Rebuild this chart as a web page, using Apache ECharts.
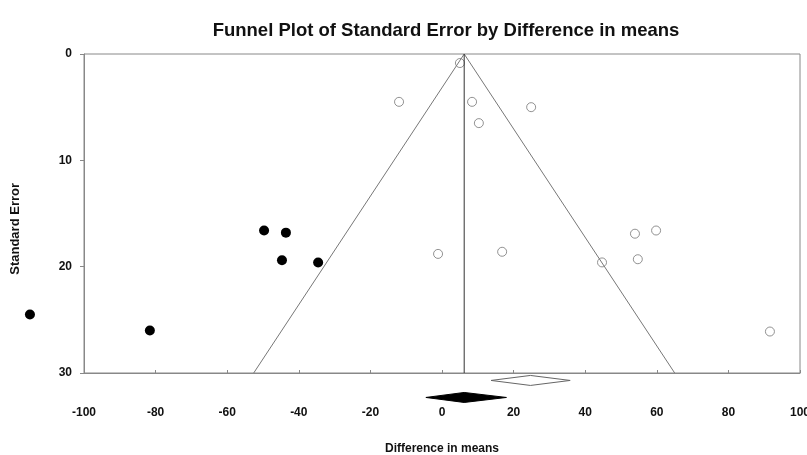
<!DOCTYPE html>
<html><head><meta charset="utf-8">
<script src="https://cdn.jsdelivr.net/npm/echarts@6/dist/echarts.min.js"></script>
<style>html,body{margin:0;padding:0;background:#fff}#c{width:807px;height:455px}</style>
</head><body><div id="c"></div>
<script>
// Observed studies (open circles)
const observedX  = [5.0, -12.0, 8.4, 24.9, 10.3, -1.1, 16.8, 44.7, 53.9, 59.8, 54.7, 91.6];
const observedSE = [0.85, 4.5, 4.5, 5.0, 6.5, 18.8, 18.6, 19.6, 16.9, 16.6, 19.3, 26.1];
// Imputed studies (filled circles)
const imputedX  = [-115.1, -81.6, -49.7, -43.6, -44.7, -34.6];
const imputedSE = [24.5, 26.0, 16.6, 16.8, 19.4, 19.6];
// Funnel definition
const funnelMean = 6.2;
const funnelMaxSE = 30;
const zCrit = 1.96;
// Summary diamonds: [low, point, high, SE-level]
const observedDiamond = [13.7, 24.7, 35.8, 30.7];
const adjustedDiamond = [-4.5, 6.2, 18.0, 32.3];
// Axis ticks
const xTicks = [-100, -80, -60, -40, -20, 0, 20, 40, 60, 80, 100];
const yTicks = [0, 10, 20, 30];

const font = '"Liberation Sans", Arial, sans-serif';
const chart = echarts.init(document.getElementById('c'));

function diamondSeries(d, filled) {
  return {
    type: 'custom',
    clip: false,
    silent: true,
    data: [d],
    renderItem: function (params, api) {
      const lo = api.coord([api.value(0), api.value(3)]);
      const mid = api.coord([api.value(1), api.value(3)]);
      const hi = api.coord([api.value(2), api.value(3)]);
      const h = 5;
      return {
        type: 'polygon',
        shape: { points: [[lo[0], lo[1]], [mid[0], mid[1] - h], [hi[0], hi[1]], [mid[0], mid[1] + h]] },
        style: filled ? { fill: '#000', stroke: '#000', lineWidth: 1 } : { fill: '#fff', stroke: '#666', lineWidth: 1 }
      };
    }
  };
}

const option = {
  backgroundColor: '#fff',
  animation: false,
  title: {
    text: 'Funnel Plot of Standard Error by Difference in means',
    left: 441, top: 16, textAlign: 'center',
    textStyle: { fontFamily: font, fontWeight: 'bold', fontSize: 18.5, color: '#111' }
  },
  grid: { left: 84, right: 7, top: 54, bottom: 82, outerBoundsMode: 'none', containLabel: false,
          show: true, borderColor: '#888', borderWidth: 1, backgroundColor: 'transparent' },
  xAxis: {
    type: 'value', min: xTicks[0], max: xTicks[xTicks.length - 1], interval: 20,
    name: 'Difference in means', nameLocation: 'middle', nameGap: 70,
    nameTextStyle: { fontFamily: font, fontWeight: 'bold', fontSize: 12, color: '#111' },
    axisLine: { show: true, onZero: false, lineStyle: { color: '#888' } },
    axisTick: { show: true, inside: true, length: 3, lineStyle: { color: '#888' } },
    axisLabel: { margin: 34, fontFamily: font, fontWeight: 'bold', fontSize: 12, color: '#111' },
    splitLine: { show: false }
  },
  yAxis: {
    type: 'value', inverse: true, min: yTicks[0], max: yTicks[yTicks.length - 1], interval: 10,
    axisLine: { show: true, onZero: false, lineStyle: { color: '#888' } },
    axisTick: { show: true, inside: false, length: 4, lineStyle: { color: '#888' } },
    axisLabel: { margin: 12, fontFamily: font, fontWeight: 'bold', fontSize: 12, color: '#111' },
    splitLine: { show: false }
  },
  graphic: [{
    type: 'text', left: 9, top: 183, rotation: Math.PI / 2,
    style: { text: 'Standard Error', font: 'bold 13px ' + font, fill: '#111' }
  }],
  series: [
    {
      type: 'line', silent: true, symbol: 'none',
      lineStyle: { color: '#777', width: 1 },
      data: [[funnelMean - zCrit * funnelMaxSE, funnelMaxSE], [funnelMean, 0], [funnelMean + zCrit * funnelMaxSE, funnelMaxSE]]
    },
    {
      type: 'line', silent: true, symbol: 'none',
      lineStyle: { color: '#333', width: 1 },
      data: [[funnelMean, 0], [funnelMean, funnelMaxSE]]
    },
    {
      type: 'scatter', clip: false, symbol: 'circle', symbolSize: 9,
      itemStyle: { color: '#fff', borderColor: '#777', borderWidth: 1 },
      data: observedX.map((x, i) => [x, observedSE[i]])
    },
    {
      type: 'scatter', clip: false, symbol: 'circle', symbolSize: 10,
      itemStyle: { color: '#000', opacity: 1 },
      data: imputedX.map((x, i) => [x, imputedSE[i]])
    },
    diamondSeries(observedDiamond, false),
    diamondSeries(adjustedDiamond, true)
  ]
};
chart.setOption(option);
</script>
</body></html>
